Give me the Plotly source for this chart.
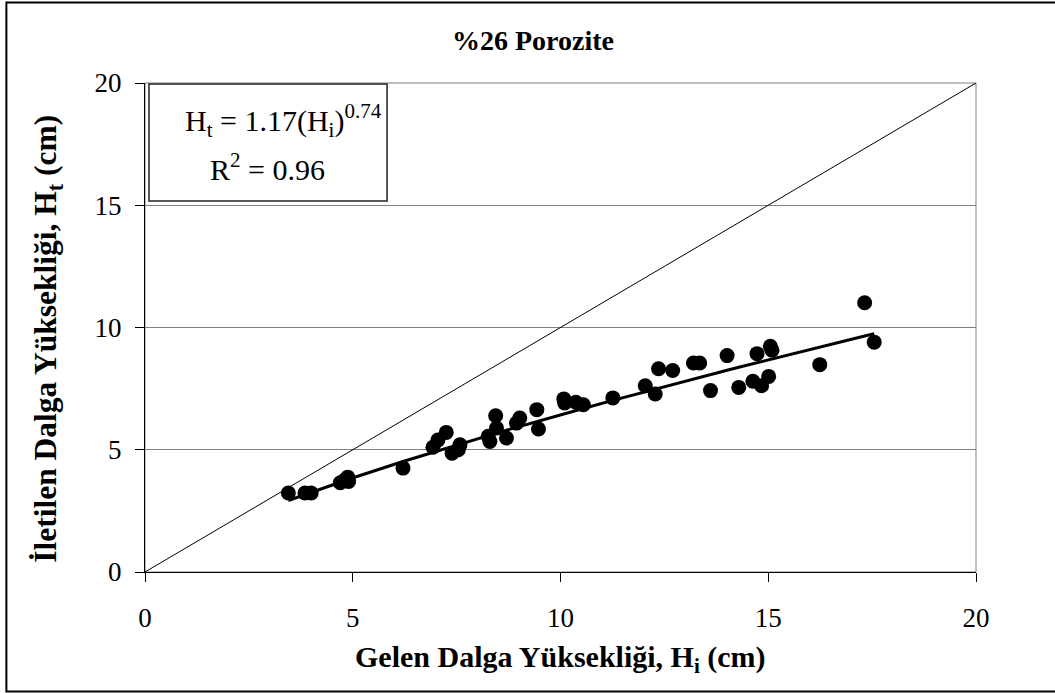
import plotly.graph_objects as go

# Measured wave heights (cm): incident Hi vs transmitted Ht
hi_cm = [3.45, 3.85, 4.00, 4.70, 4.80, 4.88, 4.90, 6.21, 6.93, 7.05,
         7.25, 7.39, 7.54, 7.58, 8.26, 8.30, 8.44, 8.46, 8.70, 8.94,
         9.02, 9.43, 9.47, 10.08, 10.10, 10.37, 10.55, 11.26, 12.04, 12.28,
         12.36, 12.70, 13.20, 13.35, 13.61, 14.01, 14.29, 14.63, 14.73, 14.84,
         15.01, 15.05, 15.09, 16.24, 17.32, 17.55]
ht_cm = [3.23, 3.23, 3.23, 3.65, 3.75, 3.88, 3.70, 4.25, 5.10, 5.40,
         5.71, 4.86, 5.00, 5.20, 5.55, 5.34, 6.39, 5.89, 5.48, 6.09,
         6.30, 6.64, 5.85, 7.08, 6.91, 6.94, 6.84, 7.12, 7.62, 7.28,
         8.31, 8.24, 8.55, 8.55, 7.42, 8.85, 7.55, 7.80, 8.93, 7.62,
         8.00, 9.23, 9.07, 8.48, 11.01, 9.40]

# Power-law fit Ht = a * Hi^b
fit_a = 1.17
fit_b = 0.74
fit_r2 = 0.96

axis_range = [0, 20]
tick_vals = [0, 5, 10, 15, 20]

serif = "Liberation Serif"

fit_x = sorted(hi_cm)
fit_y = [fit_a * x ** fit_b for x in fit_x]

fig = go.Figure()

# 1:1 reference line
fig.add_trace(go.Scatter(x=axis_range, y=axis_range, mode="lines",
                         line=dict(color="black", width=1), hoverinfo="skip"))
# measurements
fig.add_trace(go.Scatter(x=hi_cm, y=ht_cm, mode="markers",
                         marker=dict(color="black", size=15, line=dict(width=0))))
# fitted curve
fig.add_trace(go.Scatter(x=fit_x, y=fit_y, mode="lines",
                         line=dict(color="black", width=3)))

axis_common = dict(
    range=axis_range, tickvals=tick_vals, ticks="outside", ticklen=9,
    tickwidth=1, tickcolor="black", showline=True, linecolor="black",
    linewidth=1, zeroline=False, tickfont=dict(family=serif, size=27, color="black"),
)

fig.update_xaxes(**axis_common, showgrid=False, ticklabelstandoff=13)
fig.update_yaxes(**axis_common, showgrid=True, gridcolor="#808080",
                 gridwidth=1, ticklabelstandoff=8)

shapes = [
    # plot-area frame
    dict(type="rect", xref="paper", yref="paper", x0=0, x1=1, y0=0, y1=1,
         line=dict(color="#808080", width=1), layer="below"),
    # outer chart frame
    dict(type="rect", xref="paper", yref="paper", x0=-0.1668, x1=1.3,
         y0=-0.2444, y1=1.1646, line=dict(color="black", width=2), layer="below"),
    # equation box
    dict(type="rect", xref="paper", yref="paper", x0=0.0048, x1=0.2913,
         y0=0.7587, y1=0.998, line=dict(color="#222222", width=1.5),
         fillcolor="white", layer="above"),
]

annotations = [
    dict(text="<b>%26 Porozite</b>", xref="paper", yref="paper",
         x=0.4675, y=1.0875, xanchor="center", yanchor="middle", showarrow=False,
         font=dict(family=serif, size=28, color="black")),
    dict(text="<b>Gelen Dalga Yüksekliği, H<sub>i</sub> (cm)</b>",
         xref="paper", yref="paper", x=0.5, y=-0.178, xanchor="center",
         yanchor="middle", showarrow=False,
         font=dict(family=serif, size=30, color="black")),
    dict(text="<b>İletilen Dalga Yüksekliği, H<sub>t</sub> (cm)</b>",
         xref="paper", yref="paper", x=-0.116, y=0.476, xanchor="center",
         yanchor="middle", textangle=-90,
         showarrow=False, font=dict(family=serif, size=31.5, color="black")),
    dict(text=f"H<sub>t</sub> = {fit_a:.2f}(H<sub>i</sub>)<sup>{fit_b:.2f}</sup>",
         xref="paper", yref="paper", x=0.1661, y=0.924, xanchor="center",
         yanchor="middle", showarrow=False,
         font=dict(family=serif, size=30, color="black")),
    dict(text=f"R<sup>2</sup> = {fit_r2:.2f}",
         xref="paper", yref="paper", x=0.148, y=0.828, xanchor="center",
         yanchor="middle", showarrow=False,
         font=dict(family=serif, size=30, color="black")),
]

fig.update_layout(
    width=1055, height=693,
    margin=dict(l=145, r=79, t=83, b=121),
    paper_bgcolor="white", plot_bgcolor="white",
    showlegend=False, shapes=shapes, annotations=annotations,
)

fig.write_html("out.html")
